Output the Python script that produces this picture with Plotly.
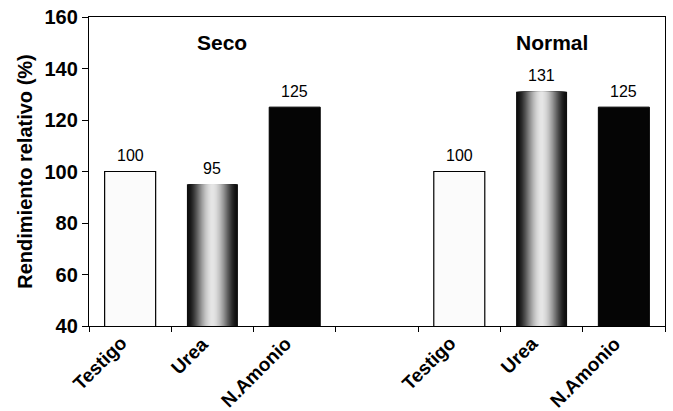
import plotly.graph_objects as go

# ---- data ----
groups = ["Seco", "Normal"]
treatments = ["Testigo", "Urea", "N.Amonio"]
testigo = [100, 100]
urea = [95, 131]
amonio = [125, 125]
y_ticks = [40, 60, 80, 100, 120, 140, 160]

FONT = "Liberation Sans, Arial, sans-serif"
BAR_W = 0.62

# slot positions: group 0 -> 0,1,2 ; empty slot 3 ; group 1 -> 4,5,6
def pos(g, t):
    return g * 4 + t

fig = go.Figure()

# Testigo (white)
fig.add_trace(go.Bar(
    x=[pos(g, 0) for g in range(len(groups))], y=testigo, width=BAR_W,
    marker=dict(color="#fbfbfb", line=dict(color="black", width=1.2)),
    hoverinfo="skip", showlegend=False))

# Urea (cylinder-like gradient: dark edges, light centre) via overlaid bars
N = 24
for k in range(N):
    d = 1 - k / N  # relative half-width
    inten = int(15 + 215 * (1 - d ** 2) ** 2.0)
    c = f"rgb({inten},{inten},{inten})"
    fig.add_trace(go.Bar(
        x=[pos(g, 1) for g in range(len(groups))], y=urea, width=BAR_W * d,
        marker=dict(color=c, line=dict(width=0)),
        hoverinfo="skip", showlegend=False))

# N.Amonio (black)
fig.add_trace(go.Bar(
    x=[pos(g, 2) for g in range(len(groups))], y=amonio, width=BAR_W,
    marker=dict(color="#050505", line=dict(color="black", width=1)),
    hoverinfo="skip", showlegend=False))

annotations = []
for g in range(len(groups)):
    for t, vals in enumerate([testigo, urea, amonio]):
        annotations.append(dict(
            x=pos(g, t), y=vals[g], text=str(vals[g]), showarrow=False,
            yshift=16, font=dict(family=FONT, size=16, color="black")))
        # rotated category label below the axis
        annotations.append(dict(
            x=pos(g, t), xref="x", y=0, yref="paper", text=f"<b>{treatments[t]}</b>",
            showarrow=False, textangle=-45, xanchor="right", yanchor="top",
            xshift=3, yshift=-4, font=dict(family=FONT, size=19, color="black")))
    annotations.append(dict(
        x=pos(g, 1), y=150, text=f"<b>{groups[g]}</b>", showarrow=False,
        xshift=10, font=dict(family=FONT, size=21, color="black")))

bounds = [i - 0.5 for i in range(8)]

fig.update_layout(
    width=673, height=411,
    margin=dict(l=89, r=8, t=17, b=85),
    paper_bgcolor="white", plot_bgcolor="white",
    barmode="overlay",
    annotations=annotations,
    font=dict(family=FONT, color="black"),
    xaxis=dict(
        range=[-0.5, 6.5], tickmode="array", tickvals=bounds, ticks="outside",
        ticklen=5, tickwidth=1, tickcolor="black", showticklabels=False,
        showgrid=False, zeroline=False, automargin=False,
        showline=True, linecolor="black", linewidth=1.3, mirror=True,
    ),
    yaxis=dict(
        range=[40, 160], tickmode="array", tickvals=y_ticks,
        ticktext=[f"<b>{v}</b>" for v in y_ticks],
        ticks="outside", ticklen=6, tickwidth=1, tickcolor="black",
        showgrid=False, zeroline=False, automargin=False,
        showline=True, linecolor="black", linewidth=1.3, mirror=True,
        tickfont=dict(family=FONT, size=20, color="black"),
        title=dict(text="<b>Rendimiento relativo (%)</b>",
                   font=dict(family=FONT, size=20, color="black"), standoff=6),
    ),
)

fig.write_html(
    "out.html",
    config={"displayModeBar": False},
    post_script="document.body.style.margin='0';document.body.style.padding='0';"
                "document.body.style.overflow='hidden';",
)
